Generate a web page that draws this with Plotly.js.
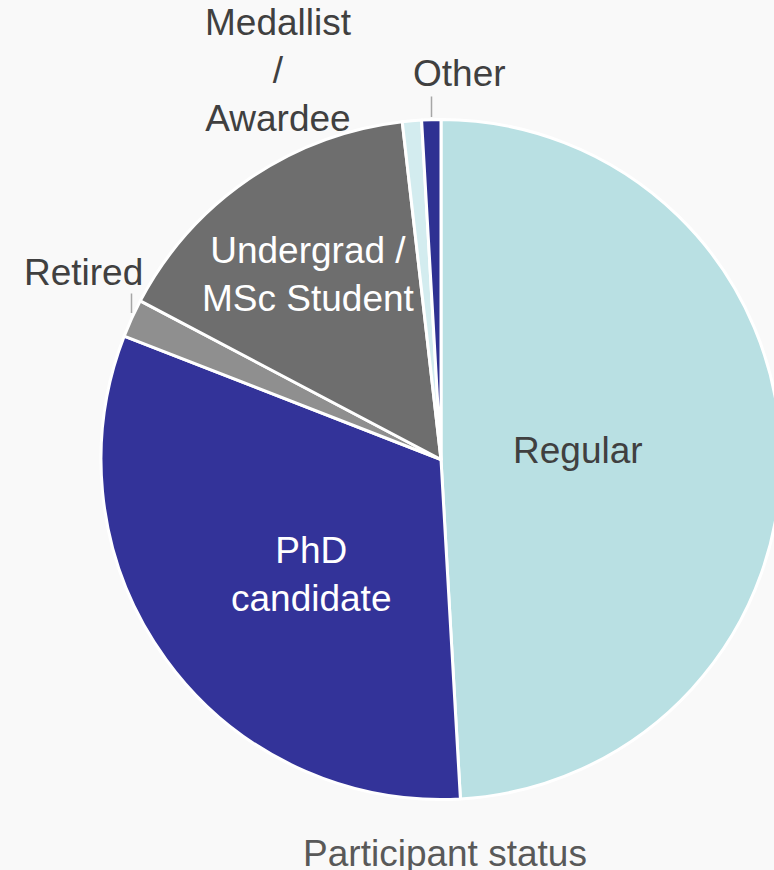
<!DOCTYPE html>
<html>
<head>
<meta charset="utf-8">
<script src="https://cdn.plot.ly/plotly-3.0.1.min.js"></script>
<style>
html,body{margin:0;padding:0;overflow:hidden;background:#f9f9f9;}
#chart{width:822px;height:870px;}
</style>
</head>
<body>
<div id="chart"></div>
<script>
const labels = ["Regular", "PhD<br>candidate", "Retired", "Undergrad /<br>MSc Student", "Medallist<br>/<br>Awardee", "Other"];
const values = [54, 35, 2, 17, 1, 1];
const colors = ["#b9e0e3", "#333399", "#8f8f8f", "#6e6e6e", "#d3ecef", "#2e3192"];
const textColors = ["#404040", "#ffffff", "#404040", "#ffffff", "#404040", "#404040"];
const chartTitle = "Participant status";

const FONT = '"Liberation Sans", Arial, sans-serif';
const W = 822, H = 870;
const px = x => x / W, py = y => 1 - y / H;

const trace = {
  type: "pie",
  labels: labels,
  values: values,
  sort: false,
  direction: "clockwise",
  rotation: 0,
  marker: {colors: colors, line: {color: "#ffffff", width: 3}},
  textinfo: "none",
  hoverinfo: "label+value+percent",
  domain: {x: [px(101), px(781)], y: [py(800), py(119)]}
};

// slice labels placed as in the reference
const labelPos = [[578, 450], [311, 574], [83, 272], [308, 274], [278, 70], [459, 73]];
const annotations = labels.map((t, i) => ({
  text: t, x: px(labelPos[i][0]), y: py(labelPos[i][1]), xref: "paper", yref: "paper",
  xanchor: "center", yanchor: "middle", showarrow: false,
  font: {family: FONT, size: 37, color: textColors[i]}
}));
// leader lines for Other and Retired
annotations.push(
  {text: "", x: px(431.5), y: py(117), xref: "paper", yref: "paper", showarrow: true,
   arrowhead: 0, arrowwidth: 1.5, arrowcolor: "#a6a6a6", ax: 0, ay: -22, standoff: 0, startstandoff: 0},
  {text: "", x: px(131.5), y: py(313), xref: "paper", yref: "paper", showarrow: true,
   arrowhead: 0, arrowwidth: 1.5, arrowcolor: "#a6a6a6", ax: 0, ay: -21, standoff: 0, startstandoff: 0}
);

const layout = {
  width: W, height: H,
  margin: {l: 0, r: 0, t: 0, b: 0},
  paper_bgcolor: "#f9f9f9",
  showlegend: false,
  annotations: annotations,
  title: {text: chartTitle, x: px(445), xanchor: "center", y: 1 - 853 / H, yanchor: "middle",
          font: {family: FONT, size: 37, color: "#595959"}}
};
Plotly.newPlot("chart", [trace], layout, {displayModeBar: false, staticPlot: true});
</script>
</body>
</html>
